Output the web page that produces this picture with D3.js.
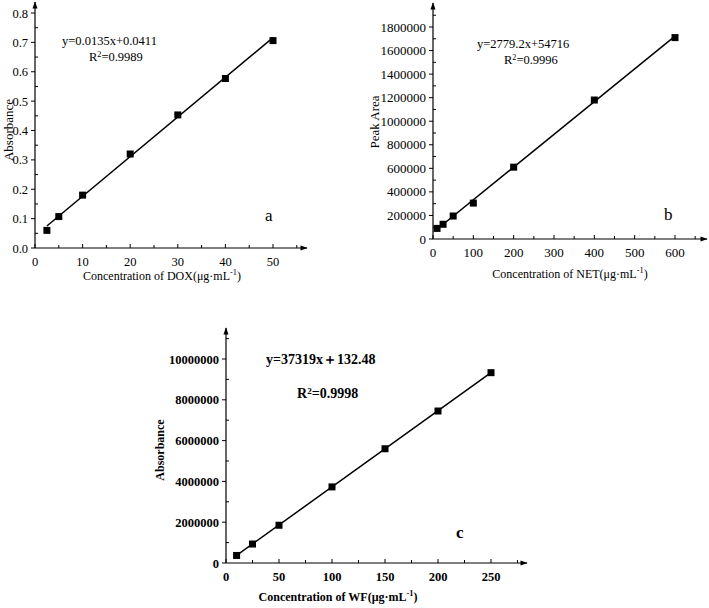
<!DOCTYPE html>
<html>
<head>
<meta charset="utf-8">
<script src="https://cdn.jsdelivr.net/npm/d3@7"></script>
<style>
  body { margin: 0; background: #fff; }
  svg { display: block; }
</style>
</head>
<body>
<svg id="chart" width="709" height="608" font-family="'Liberation Serif', 'Times New Roman', serif"></svg>
<script>
// calibration data
const doxConc = [2.5, 5, 10, 20, 30, 40, 50];
const doxAbs = [0.060, 0.107, 0.180, 0.320, 0.453, 0.577, 0.706];
const doxTicksX = [0, 10, 20, 30, 40, 50];
const doxTicksY = [0, 0.1, 0.2, 0.3, 0.4, 0.5, 0.6, 0.7, 0.8];

const netConc = [10, 25, 50, 100, 200, 400, 600];
const netArea = [90000, 125000, 195000, 305000, 610000, 1180000, 1710000];
const netTicksX = [0, 100, 200, 300, 400, 500, 600];
const netTicksY = [0, 200000, 400000, 600000, 800000, 1000000, 1200000, 1400000, 1600000, 1800000];

const wfConc = [10, 25, 50, 100, 150, 200, 250];
const wfAbs = [370000, 930000, 1850000, 3730000, 5600000, 7450000, 9330000];
const wfTicksX = [0, 50, 100, 150, 200, 250];
const wfTicksY = [0, 2000000, 4000000, 6000000, 8000000, 10000000];

const svg = d3.select('#chart');

svg.append('defs').append('marker')
    .attr('id', 'arrow')
    .attr('viewBox', '0 0 10 10')
    .attr('refX', 9).attr('refY', 5)
    .attr('markerWidth', 7).attr('markerHeight', 6)
    .attr('orient', 'auto')
    .append('path')
    .attr('d', 'M0,1.5 L10,5 L0,8.5 Z')
    .attr('fill', '#000');

function drawPanel(p) {
    const g = svg.append('g');
    const x = d3.scaleLinear().domain(p.xDomain).range([p.left, p.right]);
    const y = d3.scaleLinear().domain(p.yDomain).range([p.bottom, p.top]);
    const weight = p.bold ? 'bold' : 'normal';

    // axis lines with arrows
    g.append('line')
        .attr('x1', x(0)).attr('y1', y(0))
        .attr('x2', p.xEnd).attr('y2', y(0))
        .attr('stroke', '#000').attr('stroke-width', 1.2)
        .attr('marker-end', 'url(#arrow)');
    g.append('line')
        .attr('x1', x(0)).attr('y1', y(0))
        .attr('x2', x(0)).attr('y2', p.yEnd)
        .attr('stroke', '#000').attr('stroke-width', 1.2)
        .attr('marker-end', 'url(#arrow)');

    // x ticks (inward)
    const xMinor = d3.range(p.xDomain[0], p.xMax + 0.001, p.xStep / 2);
    g.selectAll('.xt').data(xMinor).enter().append('line')
        .attr('x1', d => x(d)).attr('x2', d => x(d))
        .attr('y1', y(0)).attr('y2', d => y(0) - (p.xTicks.includes(d) ? 4 : 3))
        .attr('stroke', '#000');
    g.selectAll('.xl').data(p.xTicks).enter().append('text')
        .attr('x', d => x(d)).attr('y', y(0) + 18)
        .attr('text-anchor', 'middle')
        .attr('font-size', p.tickSize).attr('font-weight', weight)
        .text(d => d);

    // y ticks: major outward, minor inward
    g.selectAll('.yt').data(p.yTicks).enter().append('line')
        .attr('x1', x(0) - 4).attr('x2', x(0))
        .attr('y1', d => y(d)).attr('y2', d => y(d))
        .attr('stroke', '#000');
    const yMinor = p.yTicks.slice(0, -1).map((d, i) => (d + p.yTicks[i + 1]) / 2);
    yMinor.push(p.yTicks[p.yTicks.length - 1] + (p.yTicks[1] - p.yTicks[0]) / 2);
    g.selectAll('.ym').data(yMinor.filter(d => y(d) > p.yEnd + 6)).enter().append('line')
        .attr('x1', x(0)).attr('x2', x(0) + 3)
        .attr('y1', d => y(d)).attr('y2', d => y(d))
        .attr('stroke', '#000');
    g.selectAll('.yl').data(p.yTicks).enter().append('text')
        .attr('x', x(0) - 7).attr('y', d => y(d) + 4.5)
        .attr('text-anchor', 'end')
        .attr('font-size', p.tickSize).attr('font-weight', weight)
        .text(p.yFormat);

    // fitted line
    const xs = d3.extent(p.xs);
    g.append('line')
        .attr('x1', x(xs[0])).attr('y1', y(p.slope * xs[0] + p.icpt))
        .attr('x2', x(xs[1])).attr('y2', y(p.slope * xs[1] + p.icpt))
        .attr('stroke', '#000').attr('stroke-width', 1.5);

    // points
    const s = 7;
    g.selectAll('.pt').data(p.xs.map((d, i) => [d, p.ys[i]])).enter().append('rect')
        .attr('x', d => x(d[0]) - s / 2).attr('y', d => y(d[1]) - s / 2)
        .attr('width', s).attr('height', s)
        .attr('fill', '#000');

    // axis titles
    const xt = g.append('text')
        .attr('x', p.xTitleX).attr('y', p.xTitleY)
        .attr('text-anchor', 'middle')
        .attr('font-size', p.titleSize).attr('font-weight', weight);
    xt.append('tspan').text(p.xTitle);
    xt.append('tspan').attr('dy', -5).attr('font-size', p.titleSize * 0.7).text('-1');
    xt.append('tspan').attr('dy', 5).text(')');

    g.append('text')
        .attr('transform', `translate(${p.yTitleX},${p.yTitleY}) rotate(-90)`)
        .attr('text-anchor', 'middle')
        .attr('font-size', p.yTitleSize).attr('font-weight', weight)
        .text(p.yTitle);

    // equation and R2
    g.append('text')
        .attr('x', p.eqX).attr('y', p.eqY)
        .attr('font-size', p.eqSize).attr('font-weight', weight)
        .text(p.eq);
    const r = g.append('text')
        .attr('x', p.r2X).attr('y', p.r2Y)
        .attr('font-size', p.eqSize).attr('font-weight', weight);
    r.append('tspan').text('R');
    r.append('tspan').attr('dy', -4).attr('font-size', p.eqSize * 0.65).text('2');
    r.append('tspan').attr('dy', 4).text('=' + p.r2);

    g.append('text')
        .attr('x', p.tagX).attr('y', p.tagY)
        .attr('font-size', 17).attr('font-weight', weight)
        .text(p.tag);
}

drawPanel({
    xs: doxConc, ys: doxAbs, xTicks: doxTicksX, yTicks: doxTicksY,
    xDomain: [0, 50], yDomain: [0, 0.8], xMax: 55, xStep: 10,
    left: 35, right: 273, bottom: 248, top: 13, xEnd: 307, yEnd: 2,
    yFormat: d => d.toFixed(1), tickSize: 12.5, titleSize: 12, yTitleSize: 13, eqSize: 12.5,
    slope: 0.0135, icpt: 0.0411,
    xTitle: 'Concentration of DOX(μg·mL', xTitleX: 162, xTitleY: 280,
    yTitle: 'Absorbance', yTitleX: 13, yTitleY: 130,
    eq: 'y=0.0135x+0.0411', eqX: 62, eqY: 45, r2: '0.9989', r2X: 89, r2Y: 61,
    tag: 'a', tagX: 265, tagY: 221
});

drawPanel({
    xs: netConc, ys: netArea, xTicks: netTicksX, yTicks: netTicksY,
    xDomain: [0, 600], yDomain: [0, 1800000], xMax: 650, xStep: 100,
    left: 433, right: 675, bottom: 239, top: 27, xEnd: 707, yEnd: 3,
    yFormat: d => d, tickSize: 13, titleSize: 12, yTitleSize: 13, eqSize: 12.5,
    slope: 2779.2, icpt: 54716,
    xTitle: 'Concentration of NET(μg·mL', xTitleX: 570, xTitleY: 278,
    yTitle: 'Peak Area', yTitleX: 379, yTitleY: 122,
    eq: 'y=2779.2x+54716', eqX: 477, eqY: 48, r2: '0.9996', r2X: 504, r2Y: 64,
    tag: 'b', tagX: 664, tagY: 220
});

drawPanel({
    xs: wfConc, ys: wfAbs, xTicks: wfTicksX, yTicks: wfTicksY,
    xDomain: [0, 250], yDomain: [0, 10000000], xMax: 275, xStep: 50,
    left: 226, right: 491, bottom: 563, top: 359, xEnd: 527, yEnd: 328,
    yFormat: d => d, tickSize: 12.5, titleSize: 12, yTitleSize: 12, eqSize: 14, bold: true,
    slope: 37319, icpt: 132.48,
    xTitle: 'Concentration of WF(μg·mL', xTitleX: 338, xTitleY: 601,
    yTitle: 'Absorbance', yTitleX: 164, yTitleY: 450,
    eq: 'y=37319x＋132.48', eqX: 266, eqY: 364, r2: '0.9998', r2X: 297, r2Y: 398,
    tag: 'c', tagX: 456, tagY: 538
});
</script>
</body>
</html>
